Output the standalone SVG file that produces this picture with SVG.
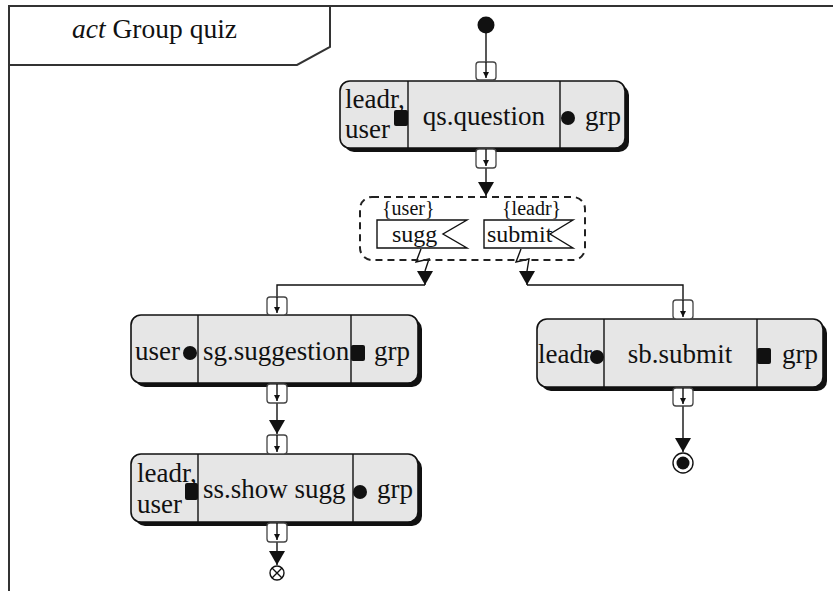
<svg xmlns="http://www.w3.org/2000/svg" width="833" height="591" viewBox="0 0 833 591">
  <style>
    text { font-family: "Liberation Serif", "DejaVu Serif", serif; fill: #111; }
    .lbl { font-size: 27px; }
    .sm { font-size: 20px; }
    .ev { font-size: 24px; }
    .frame { fill: none; stroke: #333; stroke-width: 2; }
    .body { fill: #e6e6e6; stroke: #111; stroke-width: 1.6; }
    .shadow { fill: #111; }
    .div { stroke: #111; stroke-width: 1.4; }
    .pin { fill: #fff; stroke: #444; stroke-width: 1.3; }
    .edge { fill: none; stroke: #111; stroke-width: 1.4; }
    .ink { fill: #111; }
  </style>
  <defs>
    <marker id="small" viewBox="0 0 10 10" refX="10" refY="5" markerWidth="6" markerHeight="6" orient="auto" markerUnits="userSpaceOnUse">
      <path d="M0,0 L10,5 L0,10 z" fill="#111"/>
    </marker>
    <marker id="big" viewBox="0 0 10 10" refX="10" refY="5" markerWidth="14" markerHeight="16" orient="auto" markerUnits="userSpaceOnUse" preserveAspectRatio="none">
      <path d="M0,0 L10,5 L0,10 z" fill="#111"/>
    </marker>
  </defs>

  <!-- activity frame -->
  <g id="frame">
    <path class="frame" d="M9,591 V6 H833"/>
    <path class="frame" d="M9,65 H297 L330,47 V6"/>
    <text x="72" y="38" font-size="27.5"><tspan font-style="italic">act</tspan> Group quiz</text>
  </g>

  <!-- connectors -->
  <g id="connectors">
    <!-- start to qs -->
    <line class="edge" x1="486" y1="33" x2="486" y2="62"/>
    <!-- qs to interruptible region -->
    <line class="edge" x1="486" y1="168" x2="486" y2="196" marker-end="url(#big)"/>
    <!-- interrupting edge: sugg to sg -->
    <polyline class="edge" points="421,249 416,262 429,259 425,271" />
    <line class="edge" x1="425" y1="271" x2="425" y2="285" marker-end="url(#big)"/>
    <polyline class="edge" points="425,285 277,285 277,297"/>
    <!-- interrupting edge: submit to sb -->
    <polyline class="edge" points="521,249 516,262 529,259 527,271" />
    <line class="edge" x1="527" y1="271" x2="527" y2="285" marker-end="url(#big)"/>
    <polyline class="edge" points="527,285 683,285 683,300"/>
    <!-- sg to ss -->
    <line class="edge" x1="277" y1="403" x2="277" y2="434" marker-end="url(#big)"/>
    <!-- ss to flow final -->
    <line class="edge" x1="277" y1="542" x2="277" y2="565" marker-end="url(#big)"/>
    <!-- sb to activity final -->
    <line class="edge" x1="683" y1="406" x2="683" y2="452" marker-end="url(#big)"/>
  </g>

  <!-- initial node -->
  <g id="start">
    <circle cx="486" cy="25" r="8.5" class="ink"/>
  </g>

  <!-- qs.question -->
  <g id="qs">
    <rect class="shadow" x="344" y="85" width="285" height="67" rx="10"/>
    <rect class="body" x="340" y="81" width="285" height="67" rx="10"/>
    <line class="div" x1="408" y1="81" x2="408" y2="148"/>
    <line class="div" x1="560" y1="81" x2="560" y2="148"/>
    <text class="lbl" x="345" y="108">leadr,</text>
    <text class="lbl" x="345" y="138">user</text>
    <text class="lbl" x="484" y="125" text-anchor="middle">qs.question</text>
    <text class="lbl" x="585" y="125">grp</text>
    <rect x="394" y="110" width="14" height="16" rx="2" class="ink"/>
    <circle cx="568" cy="118" r="7" class="ink"/>
    <rect class="pin" x="476" y="62" width="20" height="18" rx="3"/>
    <line class="edge" x1="486" y1="62" x2="486" y2="78" marker-end="url(#small)"/>
    <rect class="pin" x="476" y="149" width="20" height="19" rx="3"/>
    <line class="edge" x1="486" y1="149" x2="486" y2="166" marker-end="url(#small)"/>
  </g>

  <!-- interruptible region with accept events -->
  <g id="region">
    <rect x="360" y="197" width="225" height="63" rx="12" fill="none" stroke="#222" stroke-width="2" stroke-dasharray="7,5"/>
    <text class="sm" x="382" y="215">{user}</text>
    <text class="sm" x="502" y="215">{leadr}</text>
  </g>
  <g id="sugg">
    <polygon points="377,220 467,220 443,234 467,248 377,248" fill="#fff" stroke="#111" stroke-width="1.4"/>
    <text class="ev" x="392" y="242">sugg</text>
  </g>
  <g id="submit">
    <polygon points="484,220 573,220 550,234 573,248 484,248" fill="#fff" stroke="#111" stroke-width="1.4"/>
    <text class="ev" x="487" y="242">submit</text>
  </g>

  <!-- sg.suggestion -->
  <g id="sg">
    <rect class="shadow" x="135" y="319" width="287" height="68" rx="10"/>
    <rect class="body" x="131" y="315" width="287" height="68" rx="10"/>
    <line class="div" x1="198" y1="315" x2="198" y2="383"/>
    <line class="div" x1="351" y1="315" x2="351" y2="383"/>
    <text class="lbl" x="135" y="360">user</text>
    <text class="lbl" x="203" y="360">sg.suggestion</text>
    <text class="lbl" x="374" y="360">grp</text>
    <circle cx="190" cy="353" r="7" class="ink"/>
    <rect x="351" y="345" width="14" height="16" rx="2" class="ink"/>
    <rect class="pin" x="267" y="297" width="20" height="18" rx="3"/>
    <line class="edge" x1="277" y1="297" x2="277" y2="313" marker-end="url(#small)"/>
    <rect class="pin" x="267" y="384" width="20" height="19" rx="3"/>
    <line class="edge" x1="277" y1="384" x2="277" y2="401" marker-end="url(#small)"/>
  </g>

  <!-- sb.submit -->
  <g id="sb">
    <rect class="shadow" x="541" y="323" width="286" height="68" rx="10"/>
    <rect class="body" x="537" y="319" width="286" height="68" rx="10"/>
    <line class="div" x1="604" y1="319" x2="604" y2="387"/>
    <line class="div" x1="757" y1="319" x2="757" y2="387"/>
    <text class="lbl" x="538" y="363">leadr</text>
    <text class="lbl" x="680" y="363" text-anchor="middle">sb.submit</text>
    <text class="lbl" x="782" y="363">grp</text>
    <circle cx="597" cy="357" r="7" class="ink"/>
    <rect x="757" y="348" width="14" height="16" rx="2" class="ink"/>
    <rect class="pin" x="673" y="300" width="20" height="19" rx="3"/>
    <line class="edge" x1="683" y1="300" x2="683" y2="317" marker-end="url(#small)"/>
    <rect class="pin" x="673" y="388" width="20" height="18" rx="3"/>
    <line class="edge" x1="683" y1="388" x2="683" y2="404" marker-end="url(#small)"/>
  </g>

  <!-- ss.show sugg -->
  <g id="ss">
    <rect class="shadow" x="135" y="458" width="287" height="68" rx="10"/>
    <rect class="body" x="131" y="454" width="287" height="68" rx="10"/>
    <line class="div" x1="198" y1="454" x2="198" y2="522"/>
    <line class="div" x1="353" y1="454" x2="353" y2="522"/>
    <text class="lbl" x="137" y="482">leadr,</text>
    <text class="lbl" x="137" y="513">user</text>
    <text class="lbl" x="203" y="498">ss.show sugg</text>
    <text class="lbl" x="377" y="498">grp</text>
    <rect x="185" y="483" width="13" height="17" rx="2" class="ink"/>
    <circle cx="360" cy="492" r="7" class="ink"/>
    <rect class="pin" x="267" y="435" width="20" height="19" rx="3"/>
    <line class="edge" x1="277" y1="435" x2="277" y2="452" marker-end="url(#small)"/>
    <rect class="pin" x="267" y="523" width="20" height="19" rx="3"/>
    <line class="edge" x1="277" y1="523" x2="277" y2="540" marker-end="url(#small)"/>
  </g>

  <!-- final nodes -->
  <g id="flowFinal">
    <circle cx="277" cy="573" r="7" fill="#fff" stroke="#111" stroke-width="1.4"/>
    <path d="M272,568 L282,578 M282,568 L272,578" stroke="#111" stroke-width="1.4"/>
  </g>
  <g id="activityFinal">
    <circle cx="683" cy="463" r="10" fill="#fff" stroke="#111" stroke-width="1.4"/>
    <circle cx="683" cy="463" r="6.5" class="ink"/>
  </g>
</svg>
